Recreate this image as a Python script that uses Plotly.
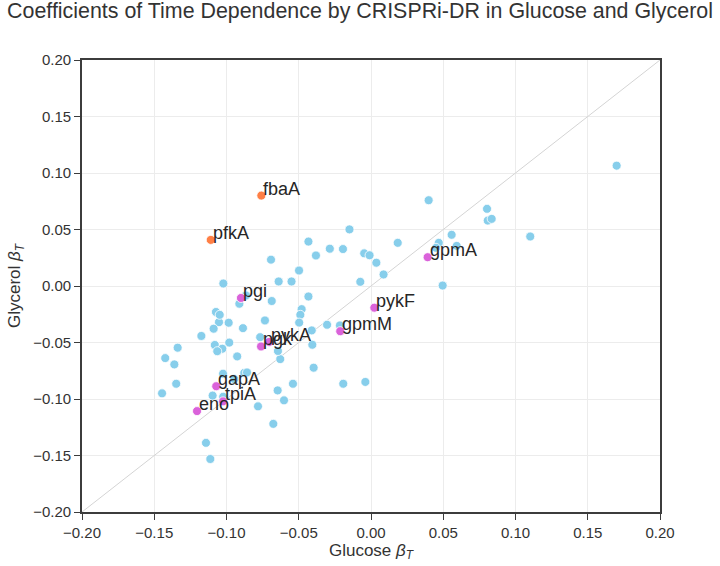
import plotly.graph_objects as go

# ---- data ----
other_glucose = [
    -0.1022, -0.0865, -0.0911, -0.0687, -0.0639, -0.0550, -0.0498, -0.0433, -0.0480, -0.0489,
    -0.0497, -0.0410, -0.0406, -0.0734, -0.0886, -0.0985, -0.1052, -0.1073, -0.1047, -0.1089,
    -0.1174, -0.1081, -0.0981, -0.1029, -0.1064, -0.1338, -0.1424, -0.1361, -0.1348, -0.1446,
    -0.0926, -0.0767, -0.0628, -0.0644, -0.0397, -0.0304, -0.0215, -0.0074, -0.0192, -0.0039,
    -0.0540, -0.0646, -0.0602, -0.0676, -0.0782, -0.1024, -0.0946, -0.0877, -0.0858, -0.1096,
    -0.1023, -0.1142, -0.1112, -0.0149, -0.0433, -0.0692, -0.0381, -0.0285, -0.0194, -0.0047,
    -0.0010, 0.0037, 0.0087, 0.0185, 0.0399, 0.0803, 0.0808, 0.0835, 0.1102, 0.1700,
    0.0558, 0.0469, 0.0593, 0.0450, 0.0496,
]
other_glycerol = [
    0.0022, -0.0084, -0.0157, -0.0133, 0.0040, 0.0040, 0.0137, -0.0093, -0.0205, -0.0255,
    -0.0324, -0.0393, -0.0520, -0.0305, -0.0373, -0.0325, -0.0320, -0.0230, -0.0255, -0.0378,
    -0.0442, -0.0522, -0.0501, -0.0555, -0.0577, -0.0546, -0.0638, -0.0694, -0.0865, -0.0950,
    -0.0623, -0.0453, -0.0647, -0.0575, -0.0723, -0.0343, -0.0349, 0.0037, -0.0865, -0.0849,
    -0.0865, -0.0924, -0.1012, -0.1220, -0.1065, -0.0776, -0.0824, -0.0769, -0.0765, -0.0970,
    -0.0980, -0.1388, -0.1531, 0.0501, 0.0393, 0.0233, 0.0270, 0.0330, 0.0327, 0.0289,
    0.0272, 0.0206, 0.0102, 0.0382, 0.0759, 0.0683, 0.0579, 0.0594, 0.0438, 0.1065,
    0.0453, 0.0382, 0.0355, 0.0338, 0.0004,
]

# upper-glycolysis genes (orange)
upper_genes = ["fbaA", "pfkA"]
upper_glucose = [-0.0759, -0.1109]
upper_glycerol = [0.0800, 0.0408]

# lower-glycolysis genes (magenta)
lower_genes = ["pgi", "pykA", "pgk", "gpmM", "pykF", "gpmA", "gapA", "tpiA", "eno"]
lower_glucose = [-0.0900, -0.0704, -0.0761, -0.0213, 0.0023, 0.0392, -0.1071, -0.1024, -0.1204]
lower_glycerol = [-0.0106, -0.0495, -0.0535, -0.0400, -0.0192, 0.0255, -0.0887, -0.1021, -0.1107]

axis_range = [-0.2, 0.2]
tick_vals = [-0.20, -0.15, -0.10, -0.05, 0.00, 0.05, 0.10, 0.15, 0.20]
tick_text = ["\u22120.20", "\u22120.15", "\u22120.10", "\u22120.05", "0.00", "0.05", "0.10", "0.15", "0.20"]

FONT = "Arial, 'Liberation Sans', Helvetica, sans-serif"
AX = "#3c3c3c"

fig = go.Figure()

# identity line
fig.add_trace(go.Scatter(
    x=axis_range, y=axis_range, mode="lines",
    line=dict(color="#d4d4d4", width=1), hoverinfo="skip", showlegend=False,
))

marker_line = dict(color="white", width=0.8)
fig.add_trace(go.Scatter(
    x=other_glucose, y=other_glycerol, mode="markers",
    marker=dict(color="#87CEEB", size=9, line=marker_line), showlegend=False,
))
fig.add_trace(go.Scatter(
    x=upper_glucose, y=upper_glycerol, mode="markers",
    marker=dict(color="#FF7F45", size=9, line=marker_line), showlegend=False,
))
fig.add_trace(go.Scatter(
    x=lower_glucose, y=lower_glycerol, mode="markers",
    marker=dict(color="#DA62DA", size=9, line=marker_line), showlegend=False,
))

for names, xs, ys in ((upper_genes, upper_glucose, upper_glycerol),
                      (lower_genes, lower_glucose, lower_glycerol)):
    for n, xv, yv in zip(names, xs, ys):
        fig.add_annotation(
            x=xv, y=yv, text=n, showarrow=False,
            xanchor="left", yanchor="bottom", xshift=0, yshift=-5,
            font=dict(family=FONT, size=18, color="#262626"),
        )

axis_common = dict(
    range=axis_range, tickvals=tick_vals, ticktext=tick_text,
    showgrid=True, gridcolor="#ececec", gridwidth=1,
    zeroline=False, showline=True, linecolor=AX, linewidth=1.6, mirror=True,
    ticks="outside", ticklen=6, tickwidth=1.4, tickcolor=AX,
    tickfont=dict(family=FONT, size=15, color="#333333"),
    automargin=False,
)

fig.update_layout(
    width=720, height=566,
    paper_bgcolor="white", plot_bgcolor="white",
    margin=dict(l=82, r=60, t=60, b=54),
    title=dict(
        text="Coefficients of Time Dependence by CRISPRi-DR in Glucose and Glycerol",
        x=0.5, xanchor="center", xref="container", y=0.982, yanchor="middle",
        font=dict(family=FONT, size=21.4, color="#333333"),
    ),
    xaxis=dict(axis_common, title=dict(text="Glucose <i>β</i><sub><i>T</i></sub>",
                                       font=dict(family=FONT, size=17, color="#333333"),
                                       standoff=2)),
    yaxis=dict(axis_common, title=dict(text="Glycerol <i>β</i><sub><i>T</i></sub>",
                                       font=dict(family=FONT, size=17, color="#333333"),
                                       standoff=8)),
    showlegend=False,
)

# remove the default page-body margin so the figure sits at the window's top-left corner
fig.write_html("out.html", config={"displayModeBar": False},
               post_script="document.body.style.margin='0';")
